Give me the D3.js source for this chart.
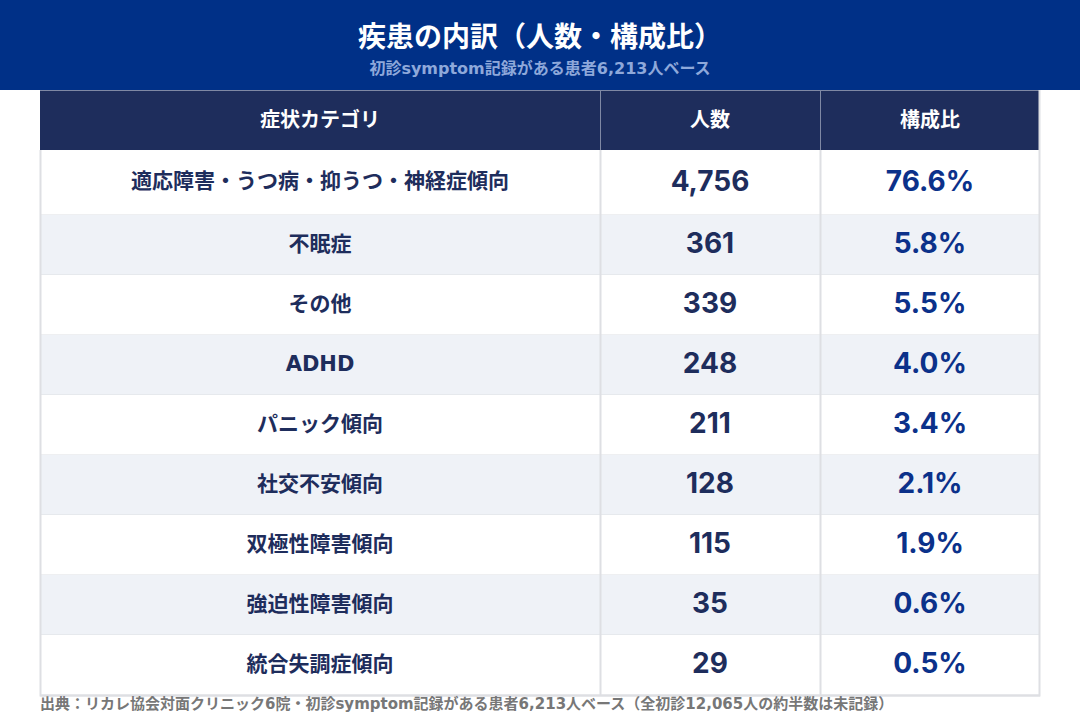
<!DOCTYPE html>
<html>
<head>
<meta charset="utf-8">
<script src="https://cdn.jsdelivr.net/npm/d3@7"></script>
<style>
body { margin: 0; background: #fff; }
svg { display: block; }
text { font-family: "DejaVu Sans", "Noto Sans CJK JP", sans-serif; font-weight: 700; }
.num { font-family: Inter, "Noto Sans CJK JP", sans-serif; }
</style>
</head>
<body>
<svg id="chart" width="1080" height="720"></svg>
<script>
var TITLE = "疾患の内訳（人数・構成比）";
var SUBTITLE = "初診symptom記録がある患者6,213人ベース";
var SOURCE = "出典：リカレ協会対面クリニック6院・初診symptom記録がある患者6,213人ベース（全初診12,065人の約半数は未記録）";
var headers = ["症状カテゴリ", "人数", "構成比"];
var categories = ["適応障害・うつ病・抑うつ・神経症傾向", "不眠症", "その他", "ADHD", "パニック傾向", "社交不安傾向", "双極性障害傾向", "強迫性障害傾向", "統合失調症傾向"];
var counts = [4756, 361, 339, 248, 211, 128, 115, 35, 29];
var shares = [76.6, 5.8, 5.5, 4.0, 3.4, 2.1, 1.9, 0.6, 0.5];

var WIDTH = 1080;
var BANNER_H = 90;
var TABLE_LEFT = 40, TABLE_RIGHT = 1040;
var HEADER_TOP = 90, HEADER_BOTTOM = 150;
var ROW_TOP = 155, ROW_BOTTOM = 695;

var svg = d3.select("#chart");

// banner
svg.append("rect")
    .attr("x", 0).attr("y", 0)
    .attr("width", WIDTH).attr("height", BANNER_H)
    .attr("fill", "#003087");

svg.append("text")
    .attr("x", WIDTH / 2).attr("y", 47)
    .attr("text-anchor", "middle")
    .attr("font-size", 28)
    .attr("fill", "#fff")
    .text(TITLE);

svg.append("text")
    .attr("x", WIDTH / 2).attr("y", 74)
    .attr("text-anchor", "middle")
    .attr("font-size", 16)
    .attr("fill", "#8ea8da")
    .text(SUBTITLE);

// columns
var colEdges = [TABLE_LEFT, 600, 820, TABLE_RIGHT];
var x = d3.scaleOrdinal().domain(headers).range(colEdges.slice(0, 3));
function colWidth(h) { var i = headers.indexOf(h); return colEdges[i + 1] - colEdges[i]; }
function colCenter(h) { return x(h) + colWidth(h) / 2; }

// rows: fixed 60px bands, the first one stretched up to the header
var y = d3.scaleBand().domain(d3.range(categories.length)).range([ROW_TOP, ROW_BOTTOM]);
function rowTop(i) { return i === 0 ? HEADER_BOTTOM : y(i); }
function rowBottom(i) { return y(i) + y.bandwidth(); }

var rows = categories.map(function (c, i) {
    return { i: i, category: c, count: counts[i], share: shares[i] };
});

// header row
var head = svg.append("g");
head.append("rect")
    .attr("x", TABLE_LEFT).attr("y", HEADER_TOP)
    .attr("width", TABLE_RIGHT - TABLE_LEFT).attr("height", HEADER_BOTTOM - HEADER_TOP)
    .attr("fill", "#1e2d5c");
head.append("line")
    .attr("x1", TABLE_LEFT).attr("x2", TABLE_RIGHT)
    .attr("y1", HEADER_TOP + 0.5).attr("y2", HEADER_TOP + 0.5)
    .attr("stroke", "#7f88a4");
head.selectAll("line.div")
    .data(headers.slice(1))
    .enter().append("line")
    .attr("class", "div")
    .attr("x1", function (h) { return x(h) + 0.5; })
    .attr("x2", function (h) { return x(h) + 0.5; })
    .attr("y1", HEADER_TOP).attr("y2", HEADER_BOTTOM)
    .attr("stroke", "#7f88a4");
head.selectAll("text")
    .data(headers)
    .enter().append("text")
    .attr("x", colCenter)
    .attr("y", (HEADER_TOP + HEADER_BOTTOM) / 2)
    .attr("dy", "0.35em")
    .attr("text-anchor", "middle")
    .attr("font-size", 20)
    .attr("fill", "#fff")
    .text(function (h) { return h; });

// body rows
var row = svg.selectAll("g.row")
    .data(rows)
    .enter().append("g")
    .attr("class", "row");

row.append("rect")
    .attr("x", TABLE_LEFT)
    .attr("y", function (d) { return rowTop(d.i); })
    .attr("width", TABLE_RIGHT - TABLE_LEFT)
    .attr("height", function (d) { return rowBottom(d.i) - rowTop(d.i); })
    .attr("fill", function (d) { return d.i % 2 === 1 ? "#eff2f7" : "#fff"; });

row.append("line")
    .attr("x1", TABLE_LEFT).attr("x2", TABLE_RIGHT)
    .attr("y1", function (d) { return rowBottom(d.i) + 0.5; })
    .attr("y2", function (d) { return rowBottom(d.i) + 0.5; })
    .attr("stroke", "#dedfe3")
    .attr("stroke-width", 2);

function midY(d) { return (rowTop(d.i) + rowBottom(d.i)) / 2 - 2; }

row.append("text")
    .attr("x", colCenter(headers[0]))
    .attr("y", midY)
    .attr("dy", "0.36em")
    .attr("text-anchor", "middle")
    .attr("font-size", 21)
    .attr("fill", "#1e2d5c")
    .text(function (d) { return d.category; });

row.append("text")
    .attr("class", "num")
    .attr("x", colCenter(headers[1]))
    .attr("y", midY)
    .attr("dy", "0.36em")
    .attr("text-anchor", "middle")
    .attr("font-size", 28)
    .attr("fill", "#1e2d5c")
    .text(function (d) { return d3.format(",")(d.count); });

row.append("text")
    .attr("class", "num")
    .attr("x", colCenter(headers[2]))
    .attr("y", midY)
    .attr("dy", "0.36em")
    .attr("text-anchor", "middle")
    .attr("font-size", 28)
    .attr("fill", "#0b318a")
    .text(function (d) { return d3.format(".1f")(d.share) + "%"; });

// body column dividers and outer border
svg.selectAll("line.coldiv")
    .data(headers.slice(1))
    .enter().append("line")
    .attr("class", "coldiv")
    .attr("x1", function (h) { return x(h) + 0.5; })
    .attr("x2", function (h) { return x(h) + 0.5; })
    .attr("y1", HEADER_BOTTOM).attr("y2", ROW_BOTTOM)
    .attr("stroke", "#dedfe3")
    .attr("stroke-width", 2);

svg.append("path")
    .attr("d", "M" + (TABLE_LEFT + 0.5) + "," + HEADER_BOTTOM + "V" + (ROW_BOTTOM + 0.5) +
        "H" + (TABLE_RIGHT - 0.5) + "V" + HEADER_TOP)
    .attr("fill", "none")
    .attr("stroke", "#dedfe3")
    .attr("stroke-width", 2);

// source note
svg.append("text")
    .attr("x", TABLE_LEFT)
    .attr("y", 709)
    .attr("font-size", 15)
    .attr("fill", "#777")
    .text(SOURCE);
</script>
</body>
</html>
